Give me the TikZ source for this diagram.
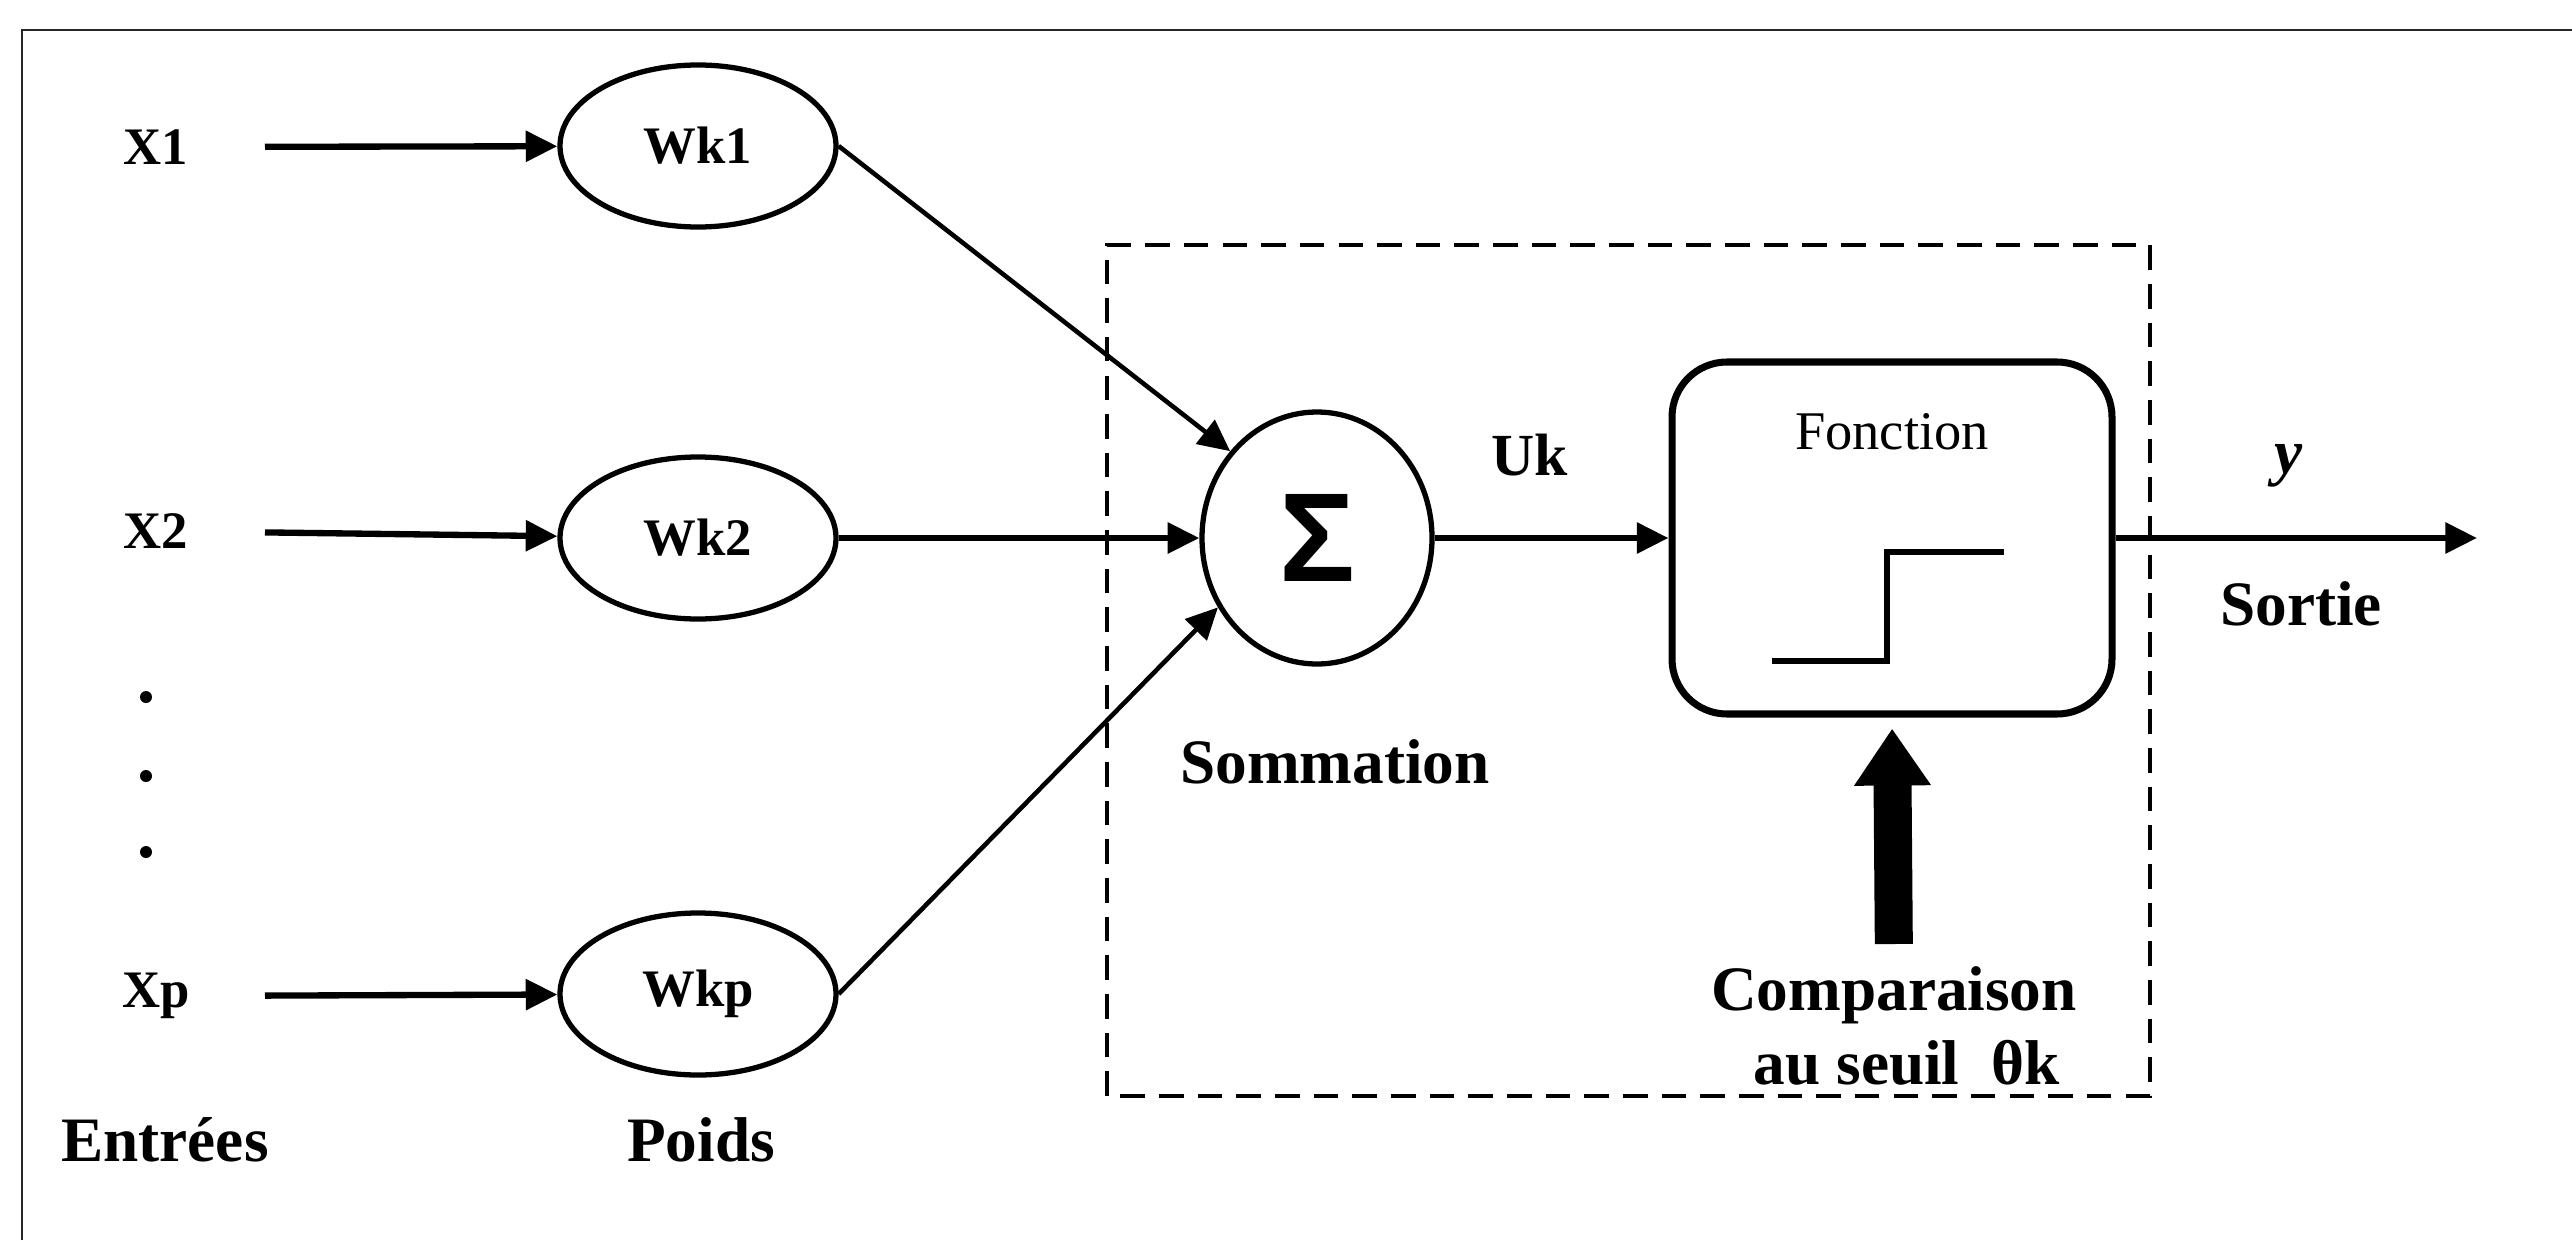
\documentclass[tikz,border=0pt]{standalone}
\usepackage{fontspec}
\setmainfont{Liberation Serif}
\newfontfamily\sigmafont{Liberation Sans}
\usepackage{tikz}
\usetikzlibrary{arrows.meta,positioning,shapes.geometric,calc}

\begin{document}
\begin{tikzpicture}[>={Triangle[length=9pt,width=8.5pt]},
  lab/.style={font=\fontsize{15}{18}\selectfont\bfseries},
  biglab/.style={font=\fontsize{18}{21}\selectfont\bfseries,align=center},
  wnode/.style={draw,ellipse,line width=1.5pt,minimum width=2.76cm,minimum height=1.62cm,font=\fontsize{15}{18}\selectfont\bfseries},
  conn/.style={->,line width=1.8pt},
  link/.style={->,line width=1.3pt},
  bigarr/.style={-{Triangle[length=0.57cm,width=0.73cm]},line width=0.38cm}]
\useasboundingbox (0,0) rectangle (25.72,12.40);
% Frame
\draw[line width=0.6pt,black!85] (0.22,0) -- (0.22,12.10) -- (25.72,12.10);
% Inputs
\node[lab] (x1) at (1.56,10.93) {X1};
\node[lab] (x2) at (1.56,7.09) {X2};
\node[lab] (xp) at (1.56,2.44) {Xp};
\fill (1.46,5.43) circle (0.06) (1.46,4.64) circle (0.06) (1.46,3.88) circle (0.06);
\node[biglab] (entrees) at (1.65,1.00) {Entrées};
% Weights
\node[wnode] (w1) at (6.98,10.94) {Wk1};
\node[wnode] (w2) at (6.98,7.02) {Wk2};
\node[wnode] (wp) at (6.98,2.46) {Wkp};
\node[biglab] (poids) at (7.01,1.00) {Poids};
\draw[conn,shorten <=1.09cm] (x1.center) -- (w1);
\draw[conn,shorten <=1.09cm] (x2.center) -- (w2);
\draw[conn,shorten <=1.09cm] (xp.center) -- (wp);
% Neuron
\draw[line width=1pt,dash pattern=on 7pt off 4pt] (11.07,1.44) rectangle (21.50,9.95);
\node[draw,ellipse,line width=1.5pt,minimum width=2.30cm,minimum height=2.52cm,font=\fontsize{36}{36}\selectfont\sigmafont\bfseries] (sum) at (13.17,7.02) {Σ};
\node[biglab] (somm) at (13.35,4.78) {Sommation};
\draw[link] (w1.east) -- (sum.135);
\draw[conn] (w2) -- (sum);
\draw[link] (wp.east) -- (sum.215);
\node[draw,line width=2pt,rounded corners=0.55cm,minimum width=4.40cm,minimum height=3.52cm] (fn) at (18.92,7.02) {};
\begin{scope}[shift={(fn.center)}]
  \node[font=\fontsize{15.5}{18}\selectfont] (fnlab) at (0,1.06) {Fonction};
  \draw[line width=1.5pt] (-1.20,-1.23) -- (-0.05,-1.23) -- (-0.05,-0.14) -- (1.12,-0.14);
\end{scope}
\node[font=\fontsize{17}{20}\selectfont\bfseries] (uk) at (15.30,7.85) {Uk};
\draw[conn] (sum) -- (fn);
% Threshold
\node[biglab,anchor=north,inner sep=0pt] (cmp) at (18.94,2.74) {Comparaison\\\hspace*{0.25cm}au seuil~~θk};
\draw[bigarr,shorten <=0.22cm,shorten >=0.11cm] (cmp.north) -- (fn.south);
% Output
\coordinate (yout) at (24.77,7.02);
\draw[conn] (fn) -- (yout);
\node[font=\fontsize{18}{21}\selectfont\bfseries\itshape] (ylab) at (22.89,7.74) {y};
\node[biglab] (sortie) at (23.01,6.36) {Sortie};
\end{tikzpicture}
\end{document}
